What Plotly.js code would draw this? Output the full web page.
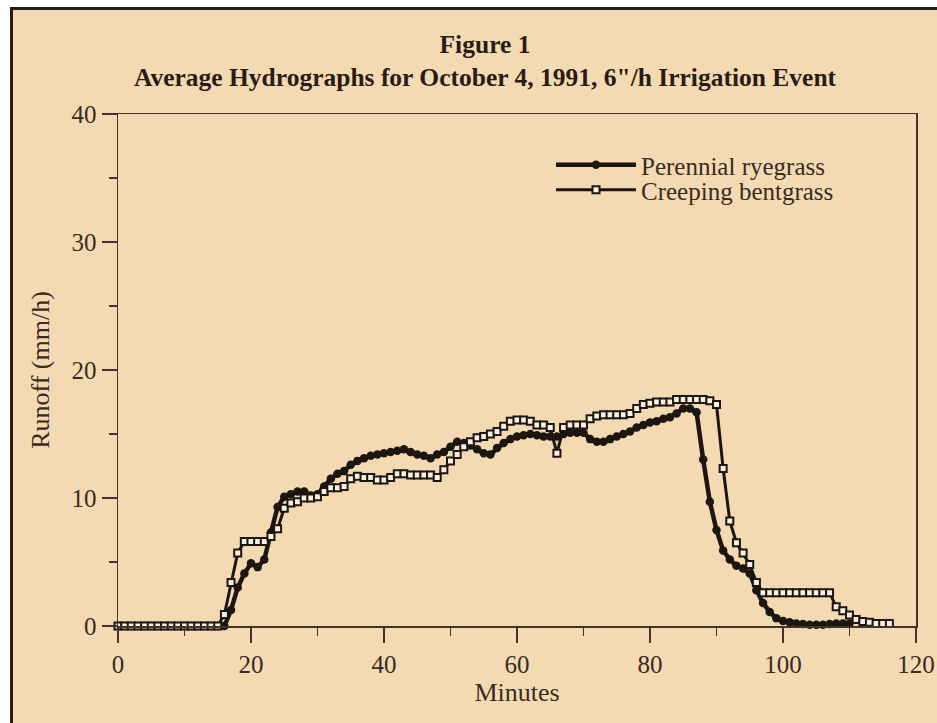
<!DOCTYPE html>
<html>
<head>
<meta charset="utf-8">
<script src="https://cdn.plot.ly/plotly-3.0.1.min.js"></script>
<style>
  html, body { margin: 0; padding: 0; background: #ffffff; width: 937px; height: 723px; overflow: hidden; }
  #frame { position: absolute; left: 10px; top: 7px; width: 930px; height: 720px;
           background: #f3dab2; border-left: 3px solid #2a1d15; border-top: 3px solid #2a1d15; }
  #plot { position: absolute; left: 0; top: 0; width: 937px; height: 723px; }
</style>
</head>
<body>
<div id="frame"></div>
<div id="plot"></div>
<script>
// Minutes (1-min steps)
const ryeMinutes = [];
for (let m = 0; m <= 110; m++) ryeMinutes.push(m);
const bentMinutes = [];
for (let m = 0; m <= 116; m++) bentMinutes.push(m);

// Perennial ryegrass runoff (mm/h)
const ryeRunoff = [
  0,0,0,0,0,0,0,0,0,0,        // 0-9
  0,0,0,0,0,0,0,1.25,3.0,4.1, // 10-19
  4.9,4.6,5.2,7.3,9.3,10.1,10.3,10.5,10.5,10.2, // 20-29
  10.3,10.9,11.5,11.9,12.1,12.6,12.9,13.1,13.3,13.4, // 30-39
  13.5,13.6,13.7,13.8,13.6,13.4,13.3,13.1,13.4,13.6, // 40-49
  14.0,14.4,14.3,14.1,13.8,13.5,13.4,13.9,14.3,14.6, // 50-59
  14.8,14.9,15.0,14.9,14.8,14.8,14.8,15.0,15.1,15.1, // 60-69
  15.1,14.6,14.4,14.4,14.6,14.8,15.0,15.2,15.5,15.7, // 70-79
  15.9,16.0,16.2,16.3,16.6,17.0,17.0,16.7,13.0,9.7,  // 80-89
  7.5,5.9,5.2,4.7,4.5,4.1,2.8,1.8,1.1,0.6,           // 90-99
  0.4,0.3,0.2,0.15,0.1,0.1,0.1,0.15,0.2,0.2,         // 100-109
  0.2                                                 // 110
];

// Creeping bentgrass runoff (mm/h)
const bentRunoff = [
  0,0,0,0,0,0,0,0,0,0,          // 0-9
  0,0,0,0,0,0,0.9,3.4,5.7,6.6,  // 10-19
  6.6,6.6,6.6,7.0,7.6,9.2,9.6,9.7,10.0,10.0, // 20-29
  10.1,10.5,10.8,10.8,10.9,11.5,11.7,11.6,11.6,11.4, // 30-39
  11.4,11.6,11.9,11.9,11.8,11.8,11.8,11.8,11.6,12.2, // 40-49
  12.9,13.4,14.0,14.4,14.7,14.8,15.0,15.2,15.6,16.0, // 50-59
  16.1,16.1,16.0,15.7,15.7,15.5,13.5,15.5,15.7,15.7, // 60-69
  15.7,16.2,16.4,16.5,16.5,16.5,16.5,16.6,17.0,17.3, // 70-79
  17.4,17.5,17.5,17.5,17.7,17.7,17.7,17.7,17.7,17.6, // 80-89
  17.3,12.3,8.2,6.5,5.7,4.8,3.4,2.6,2.6,2.6,         // 90-99
  2.6,2.6,2.6,2.6,2.6,2.6,2.6,2.6,1.5,1.2,           // 100-109
  0.85,0.5,0.35,0.3,0.2,0.2,0.2                       // 110-116
];

const seriesNames = ["Perennial ryegrass", "Creeping bentgrass"];
const xTickVals = [0, 20, 40, 60, 80, 100, 120];
const yTickVals = [0, 10, 20, 30, 40];

const ink = "#1d1510";
const textInk = "#3a2a1f";
const axisInk = "#45322a";
const serif = "Liberation Serif, Times New Roman, serif";

const traces = [
  {
    x: ryeMinutes, y: ryeRunoff, name: seriesNames[0], legend: "legend",
    type: "scatter", mode: "lines+markers", cliponaxis: false,
    line: { color: ink, width: 4.5 },
    marker: { symbol: "circle", size: 8.5, color: ink }
  },
  {
    x: bentMinutes, y: bentRunoff, name: seriesNames[1], legend: "legend2",
    type: "scatter", mode: "lines+markers", cliponaxis: false,
    line: { color: ink, width: 3 },
    marker: { symbol: "square", size: 7, color: "#f8f1e2", line: { color: ink, width: 2 } }
  }
];

const legendBase = {
  xanchor: "left", yanchor: "middle",
  bgcolor: "rgba(0,0,0,0)", borderwidth: 0,
  font: { family: serif, size: 25, color: textInk },
  itemwidth: 80
};

const layout = {
  width: 937, height: 723,
  paper_bgcolor: "rgba(0,0,0,0)",
  plot_bgcolor: "rgba(0,0,0,0)",
  margin: { l: 118, r: 21, t: 114, b: 97 },
  font: { family: serif, color: textInk, size: 22 },
  title: {
    text: "<b>Figure 1</b><br><b>Average Hydrographs for October 4, 1991, 6\"/h Irrigation Event</b>",
    x: 485 / 937, xanchor: "center", xref: "container",
    y: 1 - 53 / 723, yanchor: "top", yref: "container",
    font: { family: serif, size: 25.5, color: "#2a1c14" }
  },
  xaxis: {
    range: [0, 120], tickvals: xTickVals, ticks: "outside", ticklen: 15, tickwidth: 1.5,
    tickcolor: axisInk, showline: true, linecolor: axisInk, linewidth: 1.5, mirror: true,
    showgrid: false, zeroline: false,
    minor: { dtick: 10, tick0: 0, ticks: "outside", ticklen: 8, tickwidth: 1.5, tickcolor: axisInk, showgrid: false },
    tickfont: { family: serif, size: 25, color: textInk },
    title: { text: "Minutes", font: { family: serif, size: 26, color: textInk }, standoff: 6 }
  },
  yaxis: {
    range: [0, 40], tickvals: yTickVals, ticks: "outside", ticklen: 15, tickwidth: 1.5,
    tickcolor: axisInk, showline: true, linecolor: axisInk, linewidth: 1.5, mirror: true,
    showgrid: false, zeroline: false,
    minor: { dtick: 5, tick0: 0, ticks: "outside", ticklen: 8, tickwidth: 1.5, tickcolor: axisInk, showgrid: false },
    tickfont: { family: serif, size: 25, color: textInk },
    title: { text: "Runoff (mm/h)", font: { family: serif, size: 26, color: textInk }, standoff: 14 }
  },
  showlegend: true,
  legend: Object.assign({}, legendBase, { x: 0.5426, y: (626 - 165) / 512 }),
  legend2: Object.assign({}, legendBase, { x: 0.5426, y: (626 - 190) / 512 })
};

Plotly.newPlot("plot", traces, layout, { displayModeBar: false, staticPlot: true });
</script>
</body>
</html>
